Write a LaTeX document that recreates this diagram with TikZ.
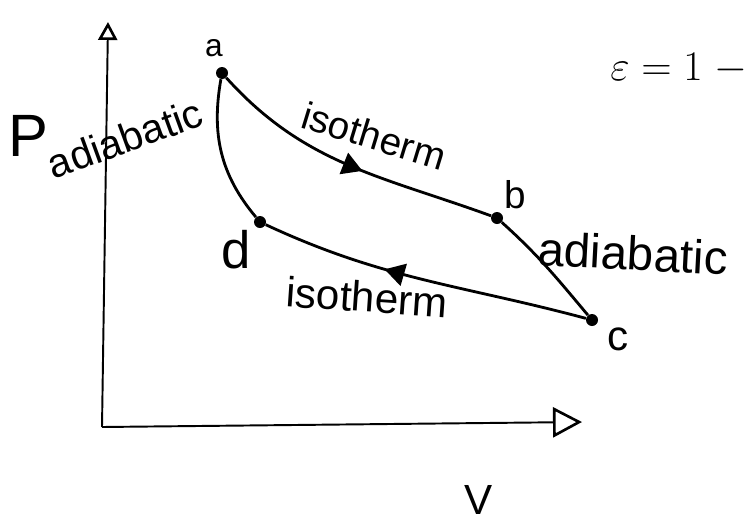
\documentclass[tikz,border=0pt]{standalone}
\usepackage{fix-cm}
\usepackage{fontspec}
\setmainfont{Liberation Sans}
\usetikzlibrary{arrows.meta,decorations.markings}

\begin{document}
\begin{tikzpicture}[
  estado/.style={circle, fill, inner sep=0pt, minimum size=2.4mm},
  curva/.style={line width=1.6pt},
  flecha/.style={postaction={decorate}, decoration={markings,
    mark=at position #1 with {\arrow{Triangle[length=4mm, width=4.5mm]}}}},
  rotulo/.style={font=\fontsize{#1}{#1}\selectfont, inner sep=0pt}
]
\useasboundingbox (0,0) rectangle (15.04,10.58);

% Ejes
\coordinate (O) at (2.04,2.04);
\coordinate (Pmax) at (2.16,10.14);
\coordinate (Vmax) at (11.64,2.14);
\draw[line width=1.1pt, -{Triangle[open, length=3.6mm, width=3.8mm, line width=1.5pt]}] (O) -- (Pmax);
\draw[line width=1.1pt, -{Triangle[open, length=5.8mm, width=6mm, line width=1.5pt]}] (O) -- (Vmax);

\node[rotulo=34] (P) at (0.56,7.86) {P};
\node[rotulo=24] (V) at (9.58,0.58) {V};

% Estados
\foreach \n/\x/\y in {a/4.44/9.12, b/9.94/6.22, c/11.84/4.18, d/5.20/6.14}
	\node[estado] (\n) at (\x,\y) {};

\node[rotulo=18] (la) at (4.28,9.62) {a};
\node[rotulo=22] (lb) at (10.30,6.68) {b};
\node[rotulo=24] (lc) at (12.36,3.80) {c};
\node[rotulo=30] (ld) at (4.72,5.58) {d};

% Ciclo
\draw[curva, flecha=0.55] (a) to[out=-48, in=160] (b);
\draw[curva] (b) to[out=-42, in=130] (c);
\draw[curva, flecha=0.62] (c) to[out=165, in=-25] (d);
\draw[curva] (a) to[out=-100, in=130] (d);

\node[rotulo=23, anchor=base, rotate=20] (adI) at (2.60,7.54) {adiabatic};
\node[rotulo=22, anchor=base, rotate=-17] (isoS) at (7.40,7.60) {isotherm};
\node[rotulo=27, anchor=base, rotate=-3] (adD) at (12.64,5.18) {adiabatic};
\node[rotulo=24, anchor=base, rotate=-4] (isoI) at (7.32,4.34) {isotherm};

% Rendimiento
\node[rotulo=24, anchor=west] (eta) at (12.20,9.20) {$\varepsilon = 1\;{-}$};
\end{tikzpicture}
\end{document}
